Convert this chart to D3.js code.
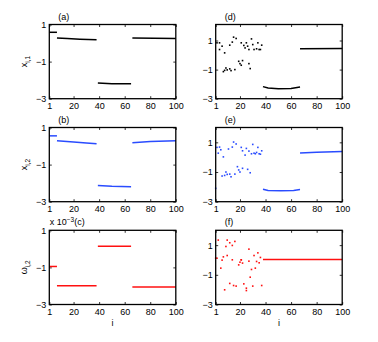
<!DOCTYPE html>
<html>
<head>
<meta charset="utf-8">
<script src="https://cdn.jsdelivr.net/npm/d3@7"></script>
<style>
  body { margin: 0; background: #fff; }
  text { font-family: "Liberation Sans", Arial, sans-serif; font-size: 9px; fill: #000; }
</style>
</head>
<body>
<svg id="chart" width="378" height="342"></svg>
<script>
// tick values shared by all panels
const xTicks = [1, 20, 40, 60, 80, 100];
const yTicks = [1, -1, -3];

// (a) x_{i,1} : line segments, [i, value]
const aLines = [
    [[1, 0.58], [7, 0.58]],
    [[7, 0.27], [15, 0.24], [25, 0.21], [38, 0.18]],
    [[39, -2.15], [50, -2.19], [65, -2.2]],
    [[66, 0.27], [100, 0.25]]
];

// (b) x_{i,2}
const bLines = [
    [[1, 0.55], [7, 0.55]],
    [[7, 0.28], [20, 0.22], [30, 0.17], [38, 0.12]],
    [[39, -2.13], [50, -2.17], [65, -2.19]],
    [[66, 0.18], [80, 0.24], [100, 0.29]]
];

// (c) omega_{i,2} (x 10^-3)
const cLines = [
    [[1, -0.95], [7, -0.95]],
    [[7, -1.99], [38, -1.99]],
    [[39, 0.14], [65, 0.14]],
    [[66, -2.05], [100, -2.05]]
];

// (d) scattered points then lines
const dDots = [
    [2, 0.84], [4, 0.84], [4, 0.38], [6, 0.61], [7, -1.14], [8, 0.15], [8, -1.05], [9, -0.89],
    [10, -1.02], [12, 0.68], [12, -0.95], [13, -1.07], [14, 0.89], [15, 1.23], [16, -1.0],
    [17, 1.14], [19, -0.43], [20, -0.59], [21, 0.84], [21, -0.7], [22, -0.38], [23, 0.66],
    [24, 0.49], [25, 0.84], [26, 0.61], [27, -0.59], [27, 0.38], [28, -0.93], [29, 1.11],
    [30, 0.72], [31, 0.38], [33, 0.43], [34, 0.84], [35, 0.38], [36, 0.38], [37, 0.68]
];
const dLines = [
    [[38, -2.17], [42, -2.27], [50, -2.32], [60, -2.3], [67, -2.2]],
    [[67, 0.43], [100, 0.45]]
];

// (e)
const eDots = [
    [1, -2.1], [2, 0.66], [3, 0.27], [4, 0.68], [5, 0.5], [6, -1.27], [7, 0.02], [8, -1.23],
    [9, -1.0], [10, -1.16], [11, 0.55], [12, -1.14], [13, -1.32], [14, 0.68], [15, 1.02],
    [16, -1.14], [17, 0.89], [18, -0.64], [19, -0.86], [20, -1.0], [21, 0.66], [22, -0.75],
    [22, 0.43], [24, 0.14], [25, 0.59], [26, -0.82], [27, 0.41], [28, -1.05], [29, 0.23],
    [30, 0.86], [31, 0.27], [32, 0.23], [33, 0.32], [34, 0.66], [35, 0.23], [36, 0.2], [37, 0.43]
];
const eLines = [
    [[38, -2.16], [42, -2.24], [52, -2.27], [62, -2.25], [67, -2.18]],
    [[67, 0.28], [80, 0.33], [100, 0.39]]
];

// (f)
const fDots = [
    [1, 0.12], [2, 0.12], [3, 1.34], [5, -0.55], [6, -0.01], [7, 0.21], [8, -2.01], [9, 0.91],
    [10, 0.3], [10, 1.34], [12, -1.58], [12, 1.16], [14, 0.98], [14, 0.01], [15, -1.72],
    [16, 1.25], [17, -1.76], [19, -0.33], [20, -0.15], [21, 0.01], [21, 0.01], [22, -0.21],
    [23, -1.61], [25, -2.06], [25, -1.9], [27, -0.08], [27, 0.73], [28, -1.16], [29, -0.64],
    [30, -1.76], [31, 0.3], [32, -0.55], [33, -0.1], [34, 0.48], [35, -0.19], [36, 0.17], [37, -1.72]
];
const fLines = [
    [[38, 0.03], [100, 0.03]]
];

const svg = d3.select("#chart");

const colLeft = [49.3, 215.7];
const rowTop = [24.5, 127.5, 230.3];
const pw = 126.5, ph = 74.2;

const panels = [
    { label: "(a)", col: 0, row: 0, ymax: 1, lines: aLines, dots: [], color: "#000", ylab: ["x", "i,1"] },
    { label: "(b)", col: 0, row: 1, ymax: 1, lines: bLines, dots: [], color: "#2a4cff", ylab: ["x", "i,2"] },
    { label: "(c)", col: 0, row: 2, ymax: 1, lines: cLines, dots: [], color: "#ff1010", ylab: ["\u03c9", "i,2"], exp: true, xlab: true },
    { label: "(d)", col: 1, row: 0, ymax: 2.1, lines: dLines, dots: dDots, color: "#000" },
    { label: "(e)", col: 1, row: 1, ymax: 2.0, lines: eLines, dots: eDots, color: "#2a4cff" },
    { label: "(f)", col: 1, row: 2, ymax: 2.0, lines: fLines, dots: fDots, color: "#ff1010", xlab: true }
];

const fmtTick = d => d < 0 ? "\u2212" + Math.abs(d) : String(d);

panels.forEach(function (p) {
    const x0 = colLeft[p.col], y0 = rowTop[p.row];
    const g = svg.append("g").attr("transform", `translate(${x0},${y0})`);

    const x = d3.scaleLinear().domain([1, 100]).range([0, pw]);
    const y = d3.scaleLinear().domain([-3, p.ymax]).range([ph, 0]);

    // ticks: inward on all four sides, labels on bottom/left only
    const axB = g.append("g").attr("transform", `translate(0,${ph})`)
        .call(d3.axisBottom(x).tickValues(xTicks).tickSize(-2.5).tickPadding(4).tickFormat(d3.format("d")));
    const axT = g.append("g")
        .call(d3.axisTop(x).tickValues(xTicks).tickSize(-2.5).tickFormat(""));
    const axL = g.append("g")
        .call(d3.axisLeft(y).tickValues(yTicks).tickSize(-2.5).tickPadding(3).tickFormat(fmtTick));
    const axR = g.append("g").attr("transform", `translate(${pw},0)`)
        .call(d3.axisRight(y).tickValues(yTicks).tickSize(-2.5).tickFormat(""));

    [axB, axT, axL, axR].forEach(function (a) {
        a.select(".domain").remove();
        a.selectAll("line").attr("stroke", "#000").attr("stroke-width", 0.8);
        a.selectAll("text").style("font-size", "9px")
            .style("font-family", '"Liberation Sans", Arial, sans-serif');
    });
    axB.selectAll("text").attr("dy", "0.71em");

    // data lines
    const line = d3.line().x(d => x(d[0])).y(d => y(d[1]));
    g.selectAll("path.seg")
        .data(p.lines)
      .enter()
      .append("path")
        .attr("class", "seg")
        .attr("d", line)
        .attr("fill", "none")
        .attr("stroke", p.color)
        .attr("stroke-width", 1.5);

    // scattered points
    g.selectAll("rect.dot")
        .data(p.dots)
      .enter()
      .append("rect")
        .attr("class", "dot")
        .attr("x", d => x(d[0]) - 0.8)
        .attr("y", d => y(d[1]) - 0.8)
        .attr("width", 1.6)
        .attr("height", 1.6)
        .attr("fill", p.color);

    // frame
    g.append("rect")
        .attr("width", pw)
        .attr("height", ph)
        .attr("fill", "none")
        .attr("stroke", "#000")
        .attr("stroke-width", 1.3);

    // panel label
    if (p.exp) {
        const t = g.append("text").attr("x", 0.5).attr("y", -5);
        t.append("tspan").text("x 10");
        t.append("tspan").attr("dy", -3.5).style("font-size", "6.5px").text("\u22123");
        t.append("tspan").attr("dy", 3.5).text("(c)");
    } else {
        g.append("text")
            .attr("x", 9)
            .attr("y", -5)
            .text(p.label);
    }

    // y label, rotated, with subscript
    if (p.ylab) {
        const t = g.append("text")
            .attr("transform", `translate(-22,${ph / 2}) rotate(-90)`)
            .attr("text-anchor", "middle");
        t.append("tspan").text(p.ylab[0]);
        t.append("tspan").attr("dy", 2.5).style("font-size", "6.5px").text(p.ylab[1]);
    }

    if (p.xlab) {
        g.append("text")
            .attr("x", pw / 2)
            .attr("y", ph + 22)
            .attr("text-anchor", "middle")
            .text("i");
    }
});
</script>
</body>
</html>
